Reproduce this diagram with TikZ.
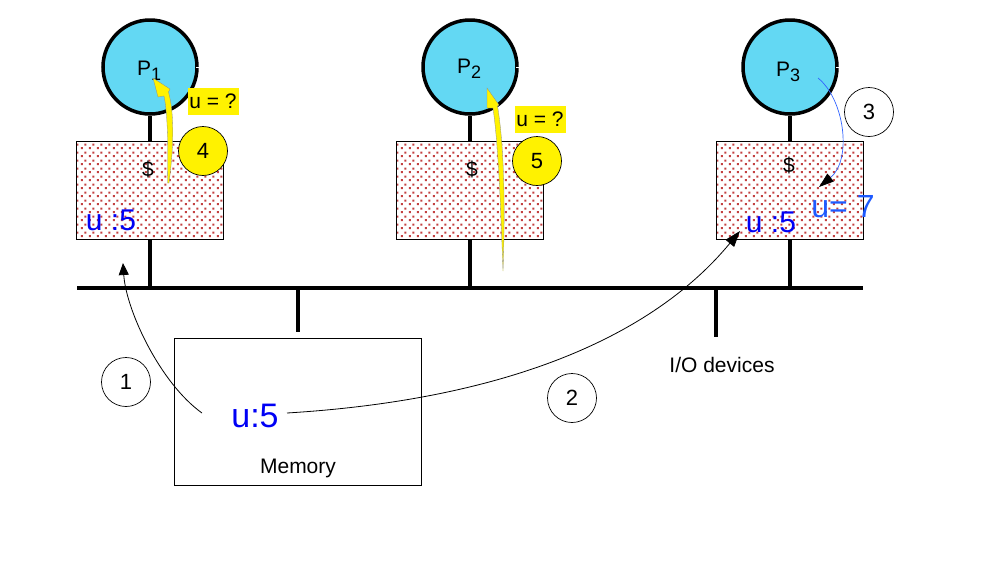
\documentclass[tikz,border=0pt]{standalone}
\usepackage{fontspec}
\setmainfont{Liberation Sans}
\usetikzlibrary{arrows.meta,patterns.meta}
\definecolor{pcyan}{RGB}{99,216,243}
\definecolor{dotred}{RGB}{195,65,65}
\definecolor{ublue}{RGB}{0,0,245}
\definecolor{ublue2}{RGB}{30,90,255}
\definecolor{lblue}{RGB}{50,100,255}
\newcommand\myfs[1]{\fontsize{#1}{#1}\selectfont}
\tikzdeclarepattern{
  name=cachedots,
  type=colored,
  bottom left={(0pt,0pt)},
  top right={(8pt,8pt)},
  tile size={(8pt,8pt)},
  code={\fill[dotred] (0.9pt,0.9pt) rectangle (3.1pt,3.1pt);
        \fill[dotred] (4.9pt,4.9pt) rectangle (7.1pt,7.1pt);}
}
\begin{document}
\begin{tikzpicture}[x=1pt,y=-1pt,
  bus/.style={line width=3.5pt},
  proc/.style={circle, draw, line width=3.5pt, fill=pcyan, minimum size=94pt, inner sep=0pt},
  cache/.style={draw, line width=0.9pt, pattern=cachedots, minimum width=147pt, minimum height=98pt, inner sep=0pt},
  numc/.style={circle, draw, line width=0.7pt, fill=white, minimum size=49pt, inner sep=0pt, font=\myfs{22}},
  ynumc/.style={numc, fill=yellow},
  qlabel/.style={fill=yellow, inner sep=0pt, minimum width=51pt, minimum height=27pt, font=\myfs{21}},
  txt/.style={inner sep=0pt, anchor=base},
  conn/.style={line width=0.8pt},
  yarrow/.style={fill=yellow, draw=black!45, line width=0.3pt},
  notch/.style={white, line width=1pt}
]
\useasboundingbox (0,0) rectangle (997,566);

% bus coordinates
\coordinate (busL) at (77,288);
\coordinate (busR) at (863,288);
\coordinate (b1) at (150,288);
\coordinate (b2) at (470,288);
\coordinate (b3) at (790,288);
\coordinate (bm) at (298,288);
\coordinate (mt) at (298,332);
\coordinate (bio) at (716,288);
\coordinate (io) at (716,337);

% processors and caches
\node[proc] (p1) at (150,67) {};
\node[proc] (p2) at (470,67) {};
\node[proc] (p3) at (790,67) {};
\node[cache] (c1) at (150,190) {};
\node[cache] (c2) at (470,190) {};
\node[cache] (c3) at (790,190) {};

\draw[bus] (p1.south) -- (c1.north);
\draw[bus] (p2.south) -- (c2.north);
\draw[bus] (p3.south) -- (c3.north);
\draw[bus] (c1.south) -- (b1);
\draw[bus] (c2.south) -- (b2);
\draw[bus] (c3.south) -- (b3);
\draw[bus] (busL) -- (busR);
\draw[bus] (bm) -- (mt);
\draw[bus] (bio) -- (io);

\draw[notch] ([xshift=-3pt]p1.east) -- ([xshift=3pt]p1.east);
\draw[notch] ([xshift=-3pt]p2.east) -- ([xshift=3pt]p2.east);
\draw[notch] ([xshift=-3pt]p3.east) -- ([xshift=3pt]p3.east);

% memory
\node[draw, line width=0.8pt, minimum width=247pt, minimum height=147pt] (mem) at (298,411.5) {};
\node[txt, font=\myfs{34}, text=ublue] (mu) at (255,427) {u:5};
\node[txt, font=\myfs{21}] (memt) at (298,473) {Memory};
\node[txt, font=\myfs{21}] (iot) at (722,372) {I/O devices};

% processor labels
\node[txt, anchor=base west, font=\myfs{21}] (p1t) at (137,75) {P\raisebox{-5pt}{\myfs{18}1}};
\node[txt, anchor=base west, font=\myfs{21}] (p2t) at (457,73) {P\raisebox{-5pt}{\myfs{18}2}};
\node[txt, anchor=base west, font=\myfs{21}] (p3t) at (776,76) {P\raisebox{-5pt}{\myfs{18}3}};

% cache texts
\node[txt, font=\myfs{21}] (d1) at (148,176) {\$};
\node[txt, font=\myfs{21}] (d2) at (472,176) {\$};
\node[txt, font=\myfs{21}] (d3) at (789,172) {\$};
\node[txt, font=\myfs{30}, text=ublue] (cu1) at (111,230) {u :5};
\node[txt, font=\myfs{30}, text=ublue] (cu3) at (771,232) {u :5};
\node[txt, font=\myfs{32}, text=ublue2] (cu7) at (843,217) {u= 7};

% yellow arrows
\path[yarrow] (153,78) -- (170,89) -- (168.5,92)
  .. controls (176,120) and (172,160) .. (169,183)
  -- (167.5,183)
  .. controls (168,150) and (168,115) .. (164,96)
  -- (158,97) -- cycle;
\path[yarrow] (487,88) -- (499,105) -- (497.5,106)
  .. controls (505,150) and (505,220) .. (503,271)
  .. controls (501,220) and (499,150) .. (493,108)
  -- (487,108) -- cycle;

% question labels
\node[qlabel] (q1) at (213,101.5) {u = ?};
\node[qlabel] (q2) at (540,119) {u = ?};

% step circles
\node[numc] (n1) at (126,382) {1};
\node[numc] (n2) at (572,398) {2};
\node[numc] (n3) at (869,112) {3};
\node[ynumc] (n4) at (203,151) {4};
\node[ynumc] (n5) at (537,161) {5};

% connectors
\coordinate (a1s) at (202,413);
\coordinate (a1e) at (123,263);
\coordinate (a2s) at (287,413);
\coordinate (a2e) at (740,231);
\coordinate (a3s) at (818,78);
\coordinate (a3e) at (819,187);

\draw[conn, -{Triangle[length=12pt,width=10pt]}] (a1s) .. controls (160,383) and (126,310) .. (a1e);
\draw[conn, -{Triangle[length=16pt,width=11pt]}] (a2s) .. controls (500,400) and (650,340) .. (a2e);
\draw[line width=0.7pt, lblue, -{Triangle[length=15pt,width=10pt,color=black]}] (a3s) .. controls (845,100) and (852,160) .. (a3e);
\end{tikzpicture}
\end{document}
